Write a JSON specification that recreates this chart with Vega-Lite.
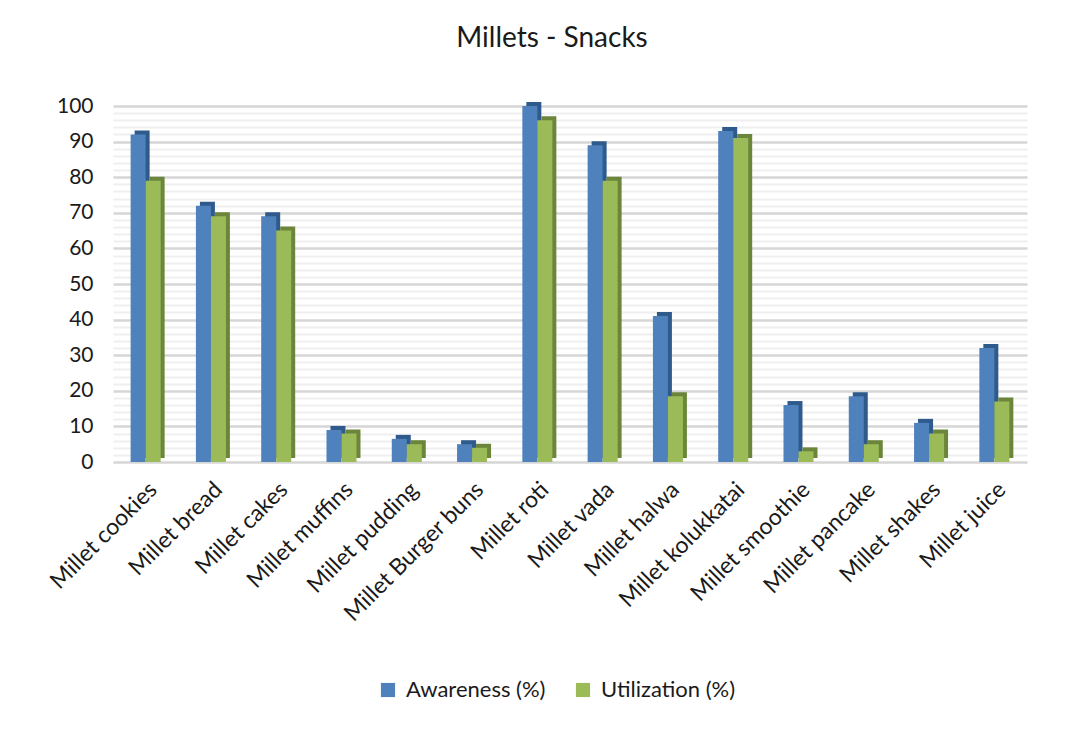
{
  "$schema": "https://vega.github.io/schema/vega-lite/v6.json",
  "width": 914,
  "height": 356,
  "autosize": {"type": "none"},
  "padding": {"left": 113, "top": 106, "right": 62, "bottom": 268},
  "background": "white",
  "title": {
    "text": "Millets - Snacks",
    "font": "Lato",
    "fontSize": 28,
    "fontWeight": "normal",
    "color": "#1a1a1a",
    "anchor": "middle",
    "dx": -18,
    "offset": 42
  },
  "data": {
    "values": [
      {"item": "Millet cookies", "series": "Awareness (%)", "value": 92},
      {"item": "Millet cookies", "series": "Utilization (%)", "value": 79},
      {"item": "Millet bread", "series": "Awareness (%)", "value": 72},
      {"item": "Millet bread", "series": "Utilization (%)", "value": 69},
      {"item": "Millet cakes", "series": "Awareness (%)", "value": 69},
      {"item": "Millet cakes", "series": "Utilization (%)", "value": 65},
      {"item": "Millet muffins", "series": "Awareness (%)", "value": 9},
      {"item": "Millet muffins", "series": "Utilization (%)", "value": 8},
      {"item": "Millet pudding", "series": "Awareness (%)", "value": 6.5},
      {"item": "Millet pudding", "series": "Utilization (%)", "value": 5},
      {"item": "Millet Burger buns", "series": "Awareness (%)", "value": 5},
      {"item": "Millet Burger buns", "series": "Utilization (%)", "value": 4},
      {"item": "Millet roti", "series": "Awareness (%)", "value": 100},
      {"item": "Millet roti", "series": "Utilization (%)", "value": 96},
      {"item": "Millet vada", "series": "Awareness (%)", "value": 89},
      {"item": "Millet vada", "series": "Utilization (%)", "value": 79},
      {"item": "Millet halwa", "series": "Awareness (%)", "value": 41},
      {"item": "Millet halwa", "series": "Utilization (%)", "value": 18.5},
      {"item": "Millet kolukkatai", "series": "Awareness (%)", "value": 93},
      {"item": "Millet kolukkatai", "series": "Utilization (%)", "value": 91},
      {"item": "Millet smoothie", "series": "Awareness (%)", "value": 16},
      {"item": "Millet smoothie", "series": "Utilization (%)", "value": 3},
      {"item": "Millet pancake", "series": "Awareness (%)", "value": 18.5},
      {"item": "Millet pancake", "series": "Utilization (%)", "value": 5},
      {"item": "Millet shakes", "series": "Awareness (%)", "value": 11},
      {"item": "Millet shakes", "series": "Utilization (%)", "value": 8},
      {"item": "Millet juice", "series": "Awareness (%)", "value": 32},
      {"item": "Millet juice", "series": "Utilization (%)", "value": 17}
    ]
  },
  "encoding": {
    "x": {
      "field": "item",
      "type": "nominal",
      "sort": null,
      "scale": {"paddingInner": 0.54, "paddingOuter": 0.27},
      "axis": {
        "title": null,
        "labelAngle": -45,
        "labelFont": "Lato",
        "labelFontSize": 23,
        "labelColor": "#1a1a1a",
        "labelPadding": 16,
        "ticks": false,
        "domain": false,
        "labelLimit": 300
      }
    },
    "y": {
      "field": "value",
      "type": "quantitative",
      "scale": {"domain": [0, 100], "nice": false},
      "axis": {
        "title": null,
        "values": [0, 2, 4, 6, 8, 10, 12, 14, 16, 18, 20, 22, 24, 26, 28, 30, 32, 34, 36, 38, 40, 42, 44, 46, 48, 50, 52, 54, 56, 58, 60, 62, 64, 66, 68, 70, 72, 74, 76, 78, 80, 82, 84, 86, 88, 90, 92, 94, 96, 98, 100],
        "labelExpr": "datum.value % 10 === 0 ? datum.label : ''",
        "labelFont": "Lato",
        "labelFontSize": 21,
        "labelColor": "#1a1a1a",
        "labelPadding": 20,
        "ticks": false,
        "domain": false,
        "gridColor": {"condition": {"test": "datum.value % 10 === 0", "value": "#d6d6d6"}, "value": "#efefef"},
        "gridWidth": {"condition": {"test": "datum.value % 10 === 0", "value": 2.5}, "value": 2},
        "labelOverlap": false
      }
    }
  },
  "layer": [
    {
      "mark": {"type": "bar", "yOffset": -4},
      "encoding": {
        "xOffset": {"field": "series", "type": "nominal", "sort": ["Awareness (%)", "Utilization (%)"], "scale": {"range": [4, 34], "paddingInner": 0, "paddingOuter": 0}},
        "color": {
          "field": "series",
          "type": "nominal",
          "scale": {"domain": ["Awareness (%)", "Utilization (%)"], "range": ["#2F5A8C", "#6B853A"]},
          "legend": null
        }
      }
    },
    {
      "mark": {"type": "bar"},
      "encoding": {
        "xOffset": {"field": "series", "type": "nominal", "sort": ["Awareness (%)", "Utilization (%)"], "scale": {"paddingInner": 0, "paddingOuter": 0}},
        "color": {
          "field": "series",
          "type": "nominal",
          "scale": {"domain": ["Awareness (%)", "Utilization (%)"], "range": ["#4F81BD", "#9BBB59"]},
          "legend": {
            "title": null,
            "orient": "none",
            "legendX": 264,
            "legendY": 573,
            "direction": "horizontal",
            "symbolType": "square",
            "symbolSize": 200,
            "symbolStrokeWidth": 0,
            "labelFont": "Lato",
            "labelFontSize": 22,
            "labelColor": "#1a1a1a",
            "columnPadding": 26,
            "labelOffset": 7
          }
        }
      }
    }
  ],
  "resolve": {"scale": {"color": "independent", "xOffset": "independent"}},
  "config": {"view": {"stroke": null}}
}
